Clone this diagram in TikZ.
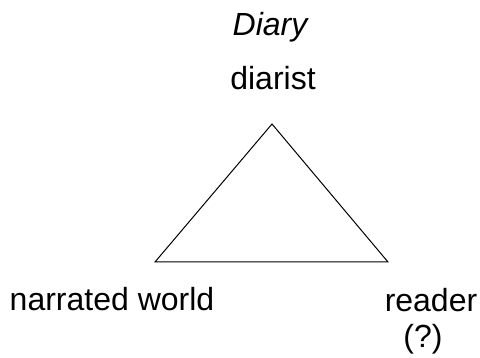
\documentclass[tikz,border=0pt]{standalone}
\usepackage{fontspec}
\setmainfont{Liberation Sans}
\usetikzlibrary{positioning}
\tikzset{
  lbl/.style={font=\fontsize{32}{36}\selectfont, inner sep=0pt, anchor=base, text=black},
  ttl/.style={lbl, font=\fontsize{32}{36}\selectfont\itshape},
  side/.style={line width=1pt, color=black, line join=miter},
}

\begin{document}
\begin{tikzpicture}[x=1pt,y=-1pt]
  \useasboundingbox (0,0) rectangle (480,358);
  % corners of the triangle
  \coordinate (apex) at (272,124);
  \coordinate (lcorner) at (155,262);
  \coordinate (rcorner) at (388,262);
  \draw[side] (apex) -- (lcorner) -- (rcorner) -- cycle;
  % labels
  \node[ttl] (diary) at (270,36) {Diary};
  \node[lbl] (diarist) at (273,90) {diarist};
  \node[lbl] (world) at (112,311) {narrated world};
  \node[lbl] (reader) at (431,312) {reader};
  \node[lbl] (query) at (423,348) {(?)};
\end{tikzpicture}
\end{document}
